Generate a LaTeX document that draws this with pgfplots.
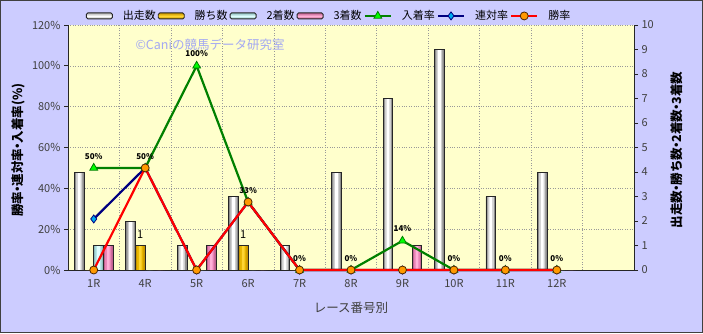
\documentclass[border=0pt]{standalone}
\usepackage{pgfplots}
\pgfplotsset{compat=1.18}
\usepackage{pgfplotstable}
\usepackage{fontspec}
\setmainfont{Noto Sans CJK JP}
\definecolor{bgout}{HTML}{CCCCFF}
\definecolor{plotbg}{HTML}{FFFFCC}
\definecolor{wm}{HTML}{A3A8F2}
\definecolor{gline}{HTML}{008000}
\definecolor{gmark}{HTML}{00FF00}
\definecolor{nline}{HTML}{000080}
\definecolor{rline}{HTML}{FF0000}
\definecolor{omark}{HTML}{FF9900}
\definecolor{wedge}{HTML}{8C8C8C}
\definecolor{wmid}{HTML}{D0D0D0}
\definecolor{wlight}{HTML}{FFFFFF}
\definecolor{gedge}{HTML}{C89600}
\definecolor{gmid}{HTML}{E6B400}
\definecolor{glight}{HTML}{FFD633}
\definecolor{cedge}{HTML}{8FBFBF}
\definecolor{cmid}{HTML}{B8E8E8}
\definecolor{clight}{HTML}{E0FFFF}
\definecolor{pedge}{HTML}{C0608F}
\definecolor{pmid}{HTML}{E883B5}
\definecolor{plight}{HTML}{FFB0D8}

% x: 0=1R,1=4R,2=5R,3=6R,4=7R,5=8R,6=9R,7=10R,8=11R,9=12R
\pgfplotstableread{
x runs win second third
0 4 0 1 1
1 2 1 0 0
2 1 0 0 1
3 3 1 0 0
4 1 0 0 0
5 4 0 0 0
6 7 0 0 1
7 9 0 0 0
8 3 0 0 0
9 4 0 0 0
}\counts
\pgfplotstableread{
x place rentai winrate
0 50 25 0
1 50 50 50
2 100 0 0
3 33.3 33.3 33.3
4 0 0 0
5 0 0 0
6 14.3 0 0
7 0 0 0
8 0 0 0
9 0 0 0
}\rates

\pgfplotsset{base/.style={scale only axis, width=566pt, height=245pt,
  at={(68pt,63pt)}, anchor=south west, xmin=-0.5, xmax=10.5,
  tick label style={font=\fontsize{11}{13}\selectfont, text=black!75},
  /pgf/number format/assume math mode=true,
  tick align=outside, major tick length=4pt,
  axis line style={-, black!85, line width=1pt},
  tick style={black!85, line width=0.8pt}}}

\newcommand{\layerbar}[6]{%
\addplot[ybar, bar width=9.7pt, bar shift=#2, fill=#3, draw=none, forget plot] table[x=x,y=#1]{\counts};
\addplot[ybar, bar width=6.2pt, bar shift=#2, fill=#4, draw=none, forget plot] table[x=x,y=#1]{\counts};
\addplot[ybar, bar width=2.8pt, bar shift=#2, fill=#5, draw=none, forget plot] table[x=x,y=#1]{\counts};
\addplot[ybar, bar width=9.7pt, bar shift=#2, draw=black!85, line width=0.8pt, forget plot, #6] table[x=x,y=#1]{\counts};
}
\newcommand{\dotsep}{\kern-0.28em・\kern-0.28em}

\begin{document}
\begin{tikzpicture}
\fill[bgout] (0pt,0pt) rectangle (703pt,333pt);
\draw[black!75, line width=1pt] (0.5pt,0.5pt) rectangle (702.5pt,332.5pt);
\path[use as bounding box] (0pt,0pt) rectangle (703pt,333pt);

% Axis A: background, grid, left axis, x labels
\begin{axis}[base,
  axis background/.style={fill=plotbg},
  axis x line*=bottom, axis y line*=left,
  ymin=0, ymax=120, ytick={0,20,...,120},
  yticklabel={\pgfmathprintnumber{\tick}\%},
  xtick={0,...,9}, xticklabels={1R,4R,5R,6R,7R,8R,9R,10R,11R,12R},
  major x tick style={draw=none},
  minor xtick={0.5,1.5,...,9.5},
  xminorgrids, ymajorgrids,
  minor x tick style={draw=none},
  grid style={dotted, black!40, line width=0.6pt},
  minor grid style={dotted, black!40, line width=0.6pt},
  xticklabel style={yshift=-2pt},
  xlabel={レース番号別},
  xlabel style={at={(axis description cs:0.5,-0.155)}, anchor=center,
    font=\fontsize{12.5}{14}\selectfont, text=black!75},
  ylabel={\bfseries 勝率\dotsep 連対率\dotsep 入着率(\%)},
  ylabel style={at={(axis description cs:-0.088,0.49)}, anchor=center,
    font=\fontsize{12.5}{14}\selectfont},
]
\addplot[draw=none, forget plot] coordinates {(0,0)};
\end{axis}

% Axis B: counts (bars), right axis
\begin{axis}[base,
  axis y line*=right, axis x line=none,
  ymin=0, ymax=10, ytick={0,...,10},
  ylabel={\bfseries 出走数\dotsep 勝ち数\dotsep 2着数\dotsep 3着数},
  ylabel style={at={(axis description cs:1.076,0.49)}, anchor=center,
    font=\fontsize{12.5}{14}\selectfont},
]
\layerbar{runs}{-14.55pt}{wedge}{wmid}{wlight}{}
\layerbar{win}{-4.85pt}{gedge}{gmid}{glight}{nodes near coords={\pgfmathfloatifflags{\pgfplotspointmeta}{0}{}{\pgfmathprintnumber{\pgfplotspointmeta}}},
  nodes near coords style={font=\fontsize{11}{13}\selectfont, text=black, yshift=3pt, xshift=-5pt}}
\layerbar{second}{4.85pt}{cedge}{cmid}{clight}{}
\layerbar{third}{14.55pt}{pedge}{pmid}{plight}{}
\end{axis}

% Axis C: rate lines and legend
\begin{axis}[base, hide axis, clip=false,
  ymin=0, ymax=120,
  legend columns=7,
  legend style={at={(axis description cs:0.026,1.037)}, anchor=west,
    draw=none, fill=none, font=\fontsize{11}{13}\selectfont,
    /tikz/every odd column/.append style={column sep=8pt},
    /tikz/every even column/.append style={column sep=0pt}},
  legend image code/.code={\draw[mark repeat=2,mark phase=2,#1] plot coordinates {(0pt,0pt) (13pt,0pt) (26pt,0pt)};},
]
\addlegendimage{legend image code/.code={\draw[rounded corners=1.5pt, line width=0.9pt, draw=black!85, top color=gray!60, bottom color=gray!60, middle color=white] (0pt,-3pt) rectangle (26pt,3pt);}}
\addlegendentry{出走数}
\addlegendimage{legend image code/.code={\draw[rounded corners=1.5pt, line width=0.9pt, draw=black!85, top color=gedge, bottom color=gedge, middle color=glight] (0pt,-3pt) rectangle (26pt,3pt);}}
\addlegendentry{勝ち数}
\addlegendimage{legend image code/.code={\draw[rounded corners=1.5pt, line width=0.9pt, draw=black!85, top color=cedge, bottom color=cedge, middle color=clight] (0pt,-3pt) rectangle (26pt,3pt);}}
\addlegendentry{2着数}
\addlegendimage{legend image code/.code={\draw[rounded corners=1.5pt, line width=0.9pt, draw=black!85, top color=pedge, bottom color=pedge, middle color=plight] (0pt,-3pt) rectangle (26pt,3pt);}}
\addlegendentry{3着数}

\addplot[gline, line width=2.2pt, mark=triangle*, mark size=4.5pt,
  mark options={fill=gmark, draw=gline, line width=0.8pt},
  nodes near coords={\pgfmathprintnumber[fixed,precision=0]{\pgfplotspointmeta}\%},
  nodes near coords style={font=\bfseries\fontsize{8}{9}\selectfont, text=black, anchor=south, yshift=5pt}]
  table[x=x, y=place] {\rates};
\addlegendentry{入着率}
\addplot[nline, line width=2.2pt, mark=diamond*, mark size=4pt,
  mark options={fill=cyan, draw=nline, line width=0.8pt}]
  table[x=x, y=rentai] {\rates};
\addlegendentry{連対率}
\addplot[rline, line width=2.2pt, mark=*, mark size=4pt,
  mark options={fill=omark, draw=black!70!orange, line width=0.8pt}]
  table[x=x, y=winrate] {\rates};
\addlegendentry{勝率}

\node[text=wm, font=\fontsize{12.5}{14}\selectfont, anchor=center] at (axis description cs:0.251,0.918) {©Caniの競馬データ研究室};
\end{axis}
\end{tikzpicture}
\end{document}
